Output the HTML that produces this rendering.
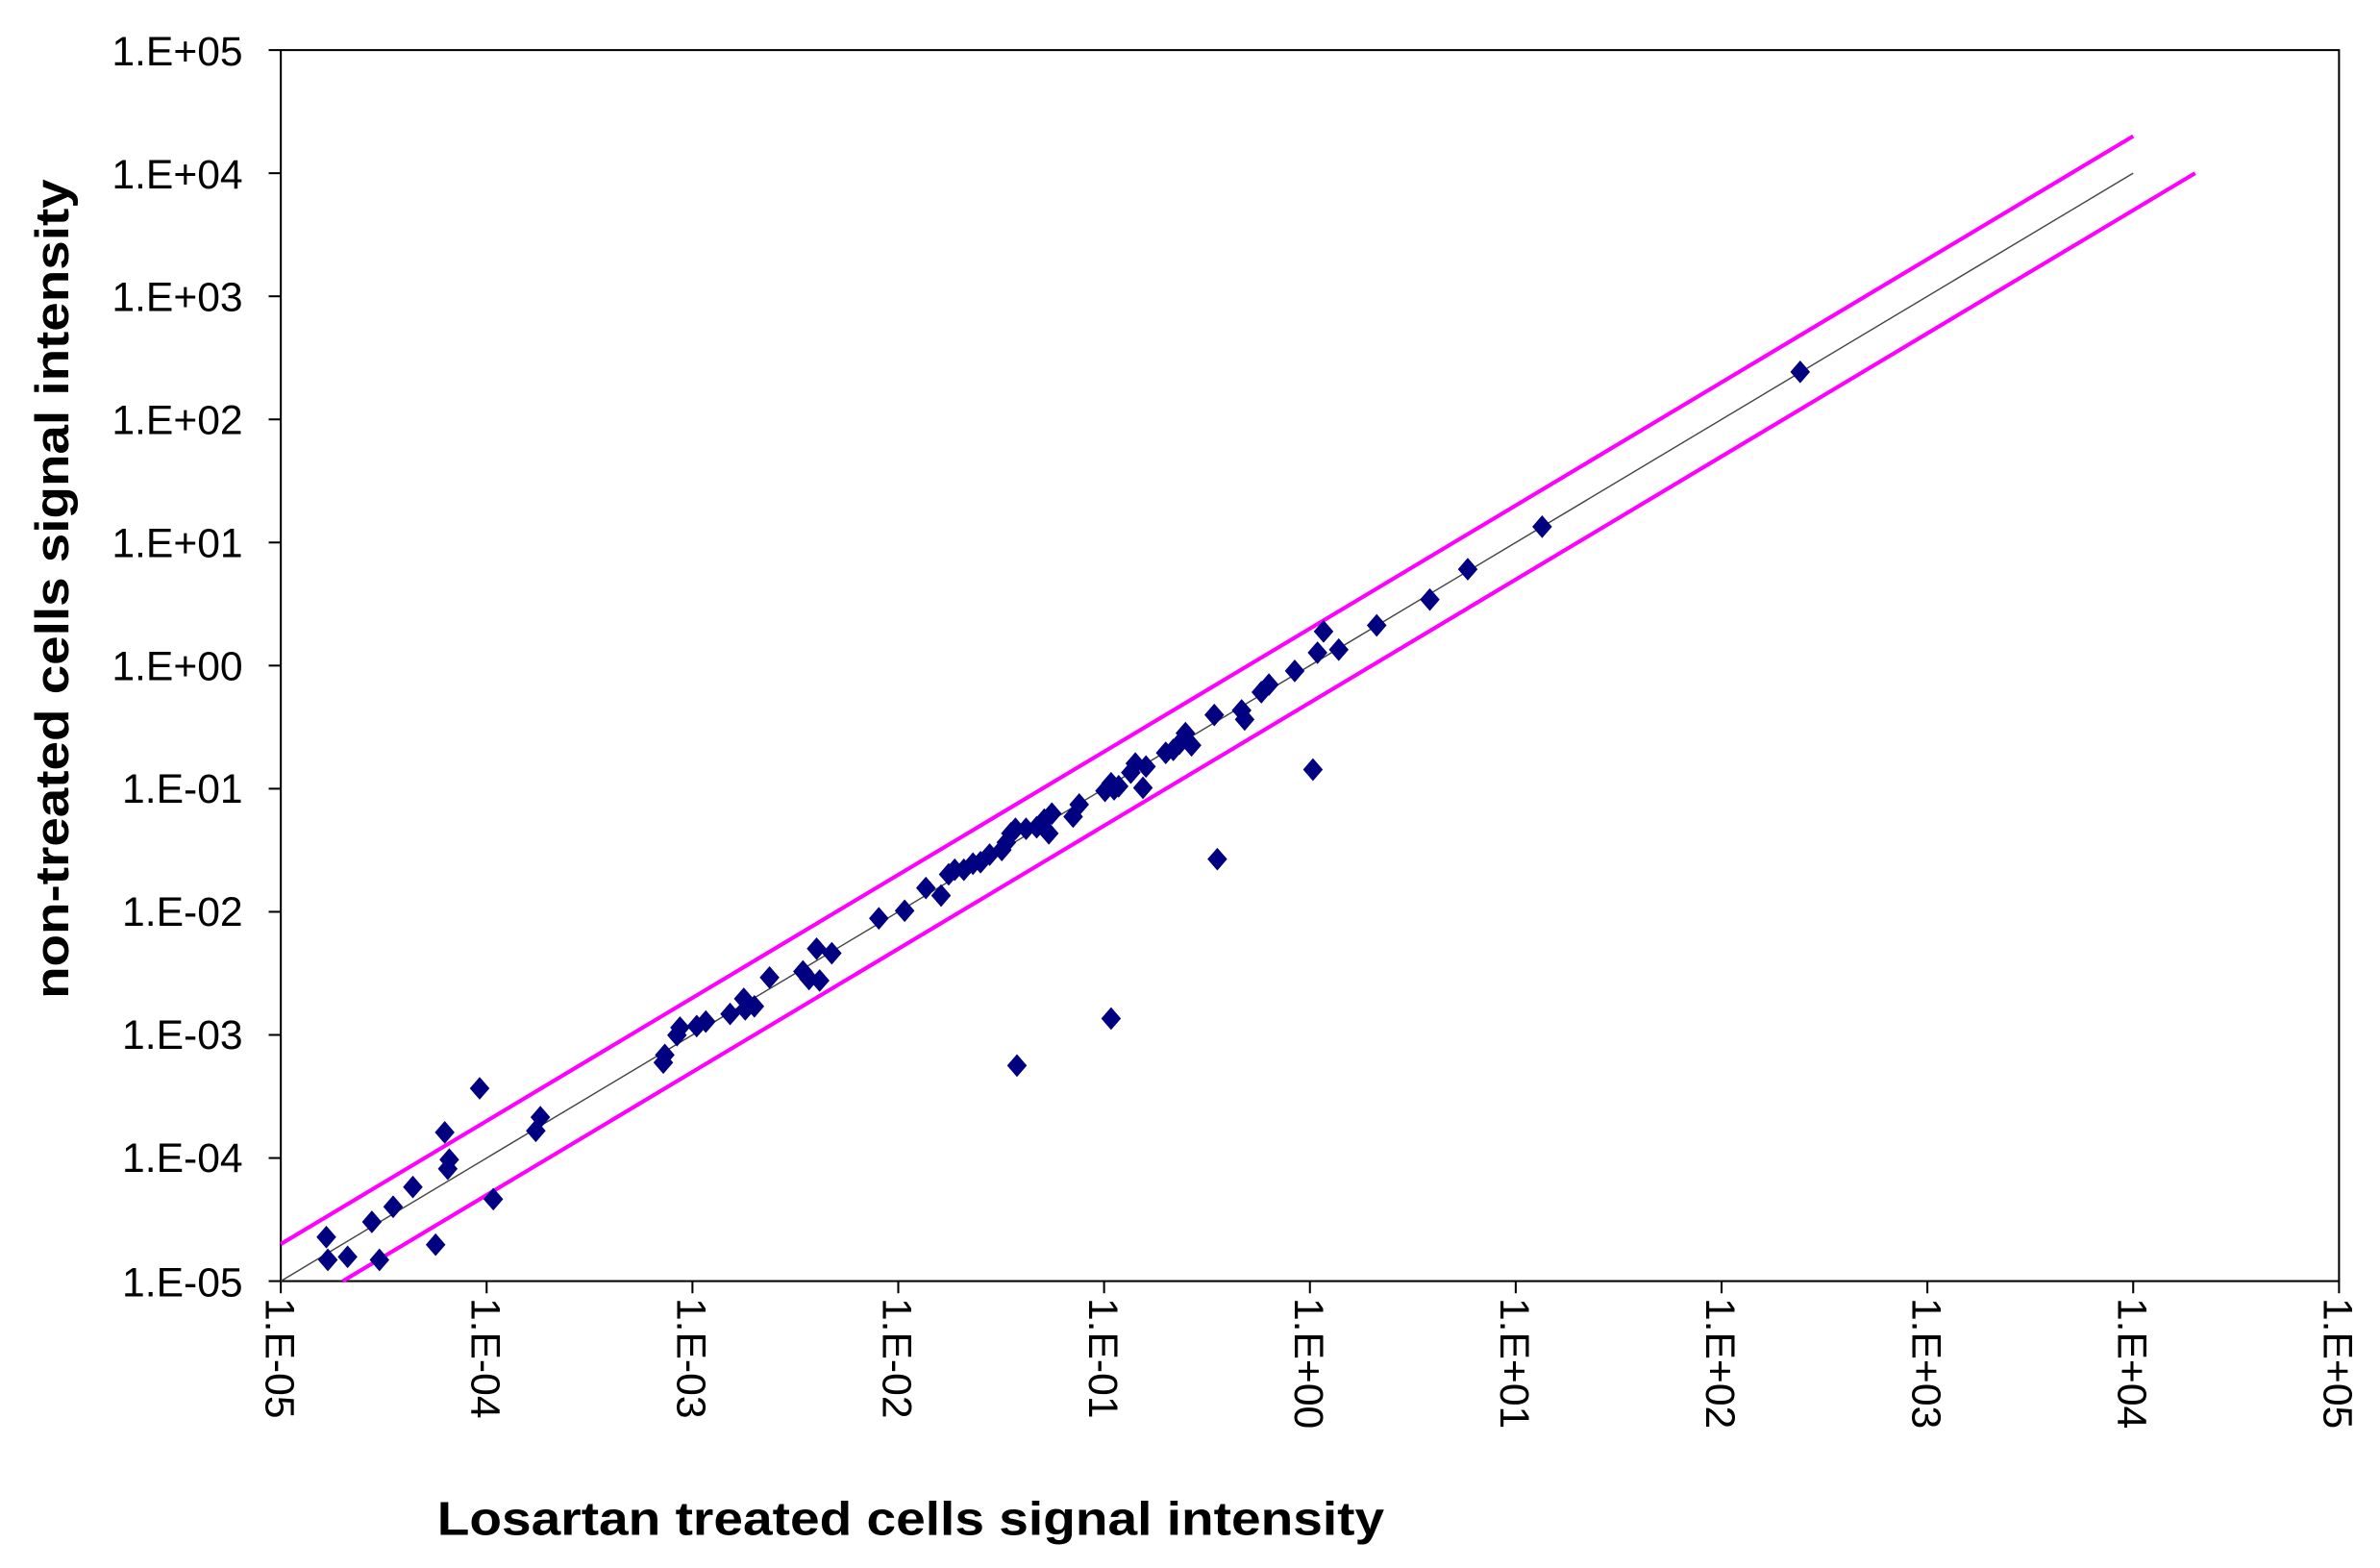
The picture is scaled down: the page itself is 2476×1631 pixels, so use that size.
<!DOCTYPE html>
<html><head><meta charset="utf-8"><style>
html,body{margin:0;padding:0;background:#fff;}
svg{display:block;}
text{font-family:"Liberation Sans",Arial,sans-serif;fill:#000;}
</style></head><body>
<svg width="2476" height="1631" viewBox="0 0 1568 1033" preserveAspectRatio="none" xmlns="http://www.w3.org/2000/svg">
<rect width="1568" height="1033" fill="#fff"/>
<rect x="185" y="33" width="1356" height="811" fill="none" stroke="#000" stroke-width="1.3"/>
<g stroke="#000" stroke-width="1.3">
<line x1="177" y1="33" x2="185" y2="33"/><line x1="177" y1="114.1" x2="185" y2="114.1"/>
<line x1="177" y1="195.2" x2="185" y2="195.2"/><line x1="177" y1="276.3" x2="185" y2="276.3"/>
<line x1="177" y1="357.4" x2="185" y2="357.4"/><line x1="177" y1="438.5" x2="185" y2="438.5"/>
<line x1="177" y1="519.6" x2="185" y2="519.6"/><line x1="177" y1="600.7" x2="185" y2="600.7"/>
<line x1="177" y1="681.8" x2="185" y2="681.8"/><line x1="177" y1="762.9" x2="185" y2="762.9"/>
<line x1="177" y1="844" x2="185" y2="844"/>
<line x1="185" y1="844" x2="185" y2="852"/><line x1="320.6" y1="844" x2="320.6" y2="852"/>
<line x1="456.2" y1="844" x2="456.2" y2="852"/><line x1="591.8" y1="844" x2="591.8" y2="852"/>
<line x1="727.4" y1="844" x2="727.4" y2="852"/><line x1="863" y1="844" x2="863" y2="852"/>
<line x1="998.6" y1="844" x2="998.6" y2="852"/><line x1="1134.2" y1="844" x2="1134.2" y2="852"/>
<line x1="1269.8" y1="844" x2="1269.8" y2="852"/><line x1="1405.4" y1="844" x2="1405.4" y2="852"/>
<line x1="1541" y1="844" x2="1541" y2="852"/>
</g>
<g font-size="27" text-anchor="end">
<text x="160" y="43">1.E+05</text><text x="160" y="124">1.E+04</text>
<text x="160" y="205">1.E+03</text><text x="160" y="286">1.E+02</text>
<text x="160" y="367">1.E+01</text><text x="160" y="448">1.E+00</text>
<text x="160" y="529">1.E-01</text><text x="160" y="610">1.E-02</text>
<text x="160" y="691">1.E-03</text><text x="160" y="772">1.E-04</text>
<text x="160" y="854">1.E-05</text>
</g>
<g font-size="27">
<text transform="translate(175,855) rotate(90)">1.E-05</text>
<text transform="translate(310.6,855) rotate(90)">1.E-04</text>
<text transform="translate(446.2,855) rotate(90)">1.E-03</text>
<text transform="translate(581.8,855) rotate(90)">1.E-02</text>
<text transform="translate(717.4,855) rotate(90)">1.E-01</text>
<text transform="translate(853,855) rotate(90)">1.E+00</text>
<text transform="translate(988.6,855) rotate(90)">1.E+01</text>
<text transform="translate(1124.2,855) rotate(90)">1.E+02</text>
<text transform="translate(1259.8,855) rotate(90)">1.E+03</text>
<text transform="translate(1395.4,855) rotate(90)">1.E+04</text>
<text transform="translate(1531,855) rotate(90)">1.E+05</text>
</g>
<text x="288" y="1011" font-size="31" font-weight="bold" textLength="624" lengthAdjust="spacingAndGlyphs">Losartan treated cells signal intensity</text>
<text transform="translate(45,658) rotate(-90)" font-size="31" font-weight="bold" textLength="540" lengthAdjust="spacingAndGlyphs">non-treated cells signal intensity</text>
<line x1="185" y1="844" x2="1405.4" y2="114.1" stroke="#444" stroke-width="0.9"/>
<line x1="185" y1="819.6" x2="1405.4" y2="89.7" stroke="#ff00ff" stroke-width="2.6"/>
<line x1="225.8" y1="844" x2="1446.2" y2="114.1" stroke="#ff00ff" stroke-width="2.6"/>
<defs><path id="d" d="M0,-7.5 L6.5,0 L0,7.5 L-6.5,0 Z" fill="#000080"/></defs>
<g>
<use href="#d" x="215" y="815"/><use href="#d" x="216" y="830"/><use href="#d" x="229" y="828"/>
<use href="#d" x="245" y="805"/><use href="#d" x="250" y="830"/><use href="#d" x="259" y="795"/>
<use href="#d" x="272" y="782"/><use href="#d" x="287" y="820"/><use href="#d" x="293" y="746"/>
<use href="#d" x="296" y="764"/><use href="#d" x="295" y="770"/><use href="#d" x="316" y="717"/>
<use href="#d" x="325" y="790"/><use href="#d" x="353" y="745"/><use href="#d" x="356" y="736"/>
<use href="#d" x="437" y="700"/><use href="#d" x="438" y="695"/><use href="#d" x="446" y="682"/>
<use href="#d" x="448" y="677"/><use href="#d" x="459" y="676"/><use href="#d" x="465" y="673"/>
<use href="#d" x="481" y="668"/><use href="#d" x="490" y="658"/><use href="#d" x="491" y="665"/>
<use href="#d" x="497" y="663"/><use href="#d" x="507" y="644"/><use href="#d" x="529" y="640"/>
<use href="#d" x="533" y="645"/><use href="#d" x="538" y="625"/><use href="#d" x="540" y="646"/>
<use href="#d" x="548" y="628"/><use href="#d" x="579" y="605"/><use href="#d" x="596" y="600"/>
<use href="#d" x="610" y="585"/><use href="#d" x="620" y="590"/><use href="#d" x="625" y="576"/>
<use href="#d" x="629" y="573"/><use href="#d" x="635" y="573"/><use href="#d" x="641" y="569"/>
<use href="#d" x="646" y="568"/><use href="#d" x="652" y="563"/><use href="#d" x="660" y="560"/>
<use href="#d" x="663" y="555"/><use href="#d" x="666" y="549"/><use href="#d" x="669" y="546"/>
<use href="#d" x="676" y="546"/><use href="#d" x="683" y="545"/><use href="#d" x="688" y="540"/>
<use href="#d" x="691" y="549"/><use href="#d" x="693" y="536"/><use href="#d" x="707" y="538"/>
<use href="#d" x="711" y="530"/><use href="#d" x="728" y="521"/><use href="#d" x="732" y="516"/>
<use href="#d" x="734" y="520"/><use href="#d" x="737" y="518"/><use href="#d" x="732" y="671"/>
<use href="#d" x="670" y="702"/><use href="#d" x="745" y="509"/><use href="#d" x="748" y="503"/>
<use href="#d" x="753" y="519"/><use href="#d" x="755" y="505"/><use href="#d" x="768" y="496"/>
<use href="#d" x="773" y="494"/><use href="#d" x="777" y="490"/><use href="#d" x="781" y="483"/>
<use href="#d" x="785" y="491"/><use href="#d" x="800" y="471"/><use href="#d" x="802" y="566"/>
<use href="#d" x="818" y="468"/><use href="#d" x="820" y="474"/><use href="#d" x="831" y="456"/>
<use href="#d" x="836" y="451"/><use href="#d" x="853" y="442"/><use href="#d" x="865" y="507"/>
<use href="#d" x="868" y="430"/><use href="#d" x="872" y="416"/><use href="#d" x="882" y="428"/>
<use href="#d" x="907" y="412"/><use href="#d" x="942" y="395"/><use href="#d" x="967" y="375"/>
<use href="#d" x="1016" y="347"/><use href="#d" x="1186" y="245"/>
</g>
</svg>
</body></html>
